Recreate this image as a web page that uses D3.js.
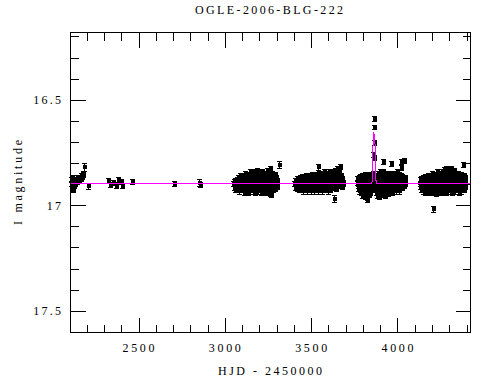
<!DOCTYPE html>
<html><head><meta charset="utf-8">
<script src="https://cdn.jsdelivr.net/npm/d3@7/dist/d3.min.js"></script>
<style>html,body{margin:0;padding:0;background:#fff;} svg{display:block}</style>
</head><body>
<script>
const title = "OGLE-2006-BLG-222";
const xLabel = "HJD - 2450000";
const yLabel = "I magnitude";
const xMajorTicks = [2500, 3000, 3500, 4000];
const xTickLabels = ["2500", "3000", "3500", "4000"];
const yMajorTicks = [16.5, 17, 17.5];
const yTickLabels = ["16.5", "17", "17.5"];
const xDomain = [2106, 4423];
const yDomain = [16.1815, 17.6033];
const defaultErr = 0.012;

// [HJD-2450000, I mag, (optional) error]
const season1 = [
 [2108,16.88],[2110,16.90],[2112,16.92],[2114,16.87],[2116,16.93],[2118,16.91],[2120,16.89],[2122,16.93],
 [2124,16.90],[2126,16.88],[2128,16.91],[2131,16.89],[2134,16.90],[2137,16.88],[2140,16.89],[2143,16.87],
 [2146,16.89],[2150,16.88],[2153,16.87],[2156,16.885],[2160,16.87],[2164,16.875],[2168,16.86],[2172,16.865],
 [2176,16.855],[2180,16.85],[2186,16.82,0.02],[2208,16.91,0.015],
 [2325,16.886],[2336,16.904],[2353,16.895],[2371,16.909],[2382,16.88],[2400,16.89],[2405,16.91],
 [2463,16.89],[2707,16.90,0.01],[2852,16.895,0.018],[2855,16.905,0.012]
];
const season2 = [
 [3050,16.90],[3052,16.92],[3054,16.89],[3056,16.93],[3058,16.905],[3060,16.885],[3062,16.92],[3064,16.90],
 [3066,16.93],[3068,16.88],[3070,16.91],[3072,16.895],[3074,16.925],[3076,16.87],[3078,16.90],[3080,16.915],
 [3082,16.935],[3084,16.88],[3086,16.90],[3088,16.86],[3090,16.92],[3092,16.89],[3095,16.87],[3097,16.93],
 [3099,16.905],[3101,16.86],[3103,16.89],[3105,16.92],[3108,16.875],[3110,16.94],[3112,16.90],[3114,16.865],
 [3116,16.915],[3118,16.85],[3120,16.89],[3123,16.93],[3125,16.87],[3127,16.905],[3129,16.86],[3131,16.92],
 [3134,16.885],[3136,16.94],[3138,16.855],[3140,16.90],[3142,16.875],[3145,16.92],[3147,16.845],[3149,16.895],
 [3152,16.93],[3154,16.865],[3156,16.91],[3158,16.85],[3160,16.88],[3163,16.935],[3165,16.86],[3167,16.90],
 [3169,16.845],[3171,16.92],[3174,16.875],[3176,16.94],[3178,16.855],[3180,16.895],[3183,16.925],[3185,16.84],
 [3187,16.88],[3189,16.91],[3192,16.86],[3194,16.935],[3196,16.87],[3198,16.90],[3201,16.845],[3203,16.925],
 [3205,16.885],[3208,16.855],[3210,16.91],[3212,16.94],[3215,16.87],[3217,16.845],[3219,16.90],[3222,16.925],
 [3224,16.86],[3226,16.89],[3229,16.935],[3231,16.85],[3233,16.88],[3236,16.915],[3238,16.865],[3240,16.94],
 [3243,16.84],[3245,16.895],[3248,16.925],[3250,16.87],[3252,16.85],[3255,16.91],[3257,16.88],[3260,16.945],
 [3262,16.83],[3264,16.90],[3266,16.95],[3268,16.875],[3271,16.92],[3273,16.85],[3276,16.895],[3278,16.93],
 [3281,16.865],[3283,16.91],[3286,16.88],[3289,16.925],[3291,16.855],[3294,16.90],[3297,16.87],[3300,16.915],
 [3303,16.885],[3316,16.81,0.018]
];
const season3 = [
 [3403,16.90],[3405,16.92],[3408,16.885],[3410,16.91],[3413,16.895],[3416,16.925],[3418,16.875],[3421,16.905],
 [3424,16.92],[3426,16.88],[3429,16.90],[3432,16.93],[3434,16.87],[3437,16.91],[3440,16.89],[3443,16.925],
 [3446,16.865],[3448,16.90],[3451,16.935],[3454,16.88],[3456,16.915],[3459,16.87],[3462,16.90],[3465,16.93],
 [3467,16.885],[3470,16.86],[3473,16.915],[3476,16.895],[3478,16.935],[3481,16.87],[3484,16.905],[3487,16.925],
 [3490,16.88],[3492,16.86],[3495,16.91],[3498,16.935],[3501,16.875],[3503,16.90],[3506,16.855],[3509,16.92],
 [3512,16.885],[3515,16.935],[3517,16.865],[3520,16.90],[3523,16.925],[3526,16.87],[3529,16.855],[3531,16.91],
 [3534,16.89],[3537,16.935],[3541,16.82,0.015],[3543,16.87],[3546,16.905],[3548,16.85],[3551,16.925],[3554,16.88],
 [3556,16.86],[3559,16.915],[3562,16.895],[3565,16.935],[3567,16.85],[3570,16.875],[3573,16.91],[3576,16.845],
 [3578,16.93],[3581,16.87],[3584,16.895],[3587,16.85],[3589,16.92],[3592,16.86],[3595,16.905],[3598,16.935],
 [3600,16.875],[3603,16.845],[3606,16.915],[3609,16.885],[3611,16.93],[3614,16.855],[3617,16.90],[3620,16.87],
 [3622,16.92],[3625,16.845],[3628,16.89],[3630,16.97,0.015],[3632,16.86],[3635,16.915],[3638,16.875],[3641,16.84],
 [3643,16.905],[3646,16.925],[3649,16.855],[3652,16.83],[3654,16.89],[3657,16.87],[3660,16.91],[3662,16.845],
 [3665,16.82],[3668,16.88],[3670,16.90],[3673,16.86],[3676,16.915],[3679,16.875],[3682,16.895],[3685,16.90]
];
const season4 = [
 [3765,16.895],[3767,16.875],[3769,16.91],[3771,16.89],[3773,16.925],[3775,16.87],[3777,16.905],[3779,16.935],
 [3781,16.885],[3783,16.865],[3785,16.915],[3787,16.895],[3789,16.94],[3791,16.875],[3793,16.90],[3795,16.955],
 [3797,16.86],[3799,16.92],[3801,16.89],[3803,16.945],[3805,16.87],[3807,16.905],[3809,16.96],[3811,16.855],
 [3813,16.925],[3815,16.885],[3817,16.95],[3819,16.87],[3821,16.965],[3823,16.90],[3825,16.975],[3827,16.86],
 [3829,16.935],[3831,16.88],[3833,16.95],[3835,16.87],[3837,16.915],[3839,16.855],[3841,16.94],[3843,16.89],
 [3845,16.865],[3847,16.925],[3849,16.88],[3851,16.905],[3853,16.87],[3855,16.93],[3857,16.885],[3859,16.85],
 [3861,16.76],[3861.8,16.705],[3862.5,16.59,0.012],[3863.2,16.63,0.01],[3864,16.775],
 [3866,16.86],[3868,16.90],[3870,16.875],[3872,16.925],[3874,16.89],[3876,16.94],[3878,16.86],[3880,16.91],
 [3882,16.955],[3884,16.875],[3886,16.93],[3888,16.85],[3890,16.90],[3892,16.96],[3894,16.88],[3896,16.915],
 [3898,16.845],[3900,16.94],[3902,16.87],[3904,16.905],[3906,16.925],[3908,16.86],[3910,16.89],[3912,16.95],
 [3914,16.875],[3916,16.91],[3918,16.845],[3919,16.795,0.012],[3921,16.93],[3923,16.88],[3925,16.90],[3927,16.86],
 [3929,16.955],[3931,16.915],[3933,16.875],[3935,16.94],[3937,16.85],[3939,16.895],[3941,16.925],[3943,16.87],
 [3945,16.905],[3947,16.945],[3949,16.86],[3951,16.89],[3953,16.92],[3955,16.875],[3957,16.935],[3959,16.85],
 [3960,16.805,0.012],[3962,16.90],[3964,16.925],[3966,16.87],[3968,16.885],[3970,16.94],[3972,16.855],[3974,16.91],
 [3976,16.895],[3978,16.93],[3980,16.865],[3982,16.90],[3984,16.85],[3986,16.92],[3988,16.88],[3990,16.935],
 [3992,16.86],[3994,16.905],[3996,16.875],[3998,16.925],[4000,16.845],[4002,16.89],[4004,16.915],[4006,16.87],
 [4008,16.935],[4010,16.855],[4012,16.90],[4014,16.88],[4016,16.92],[4018,16.795],[4019,16.825],[4021,16.86],
 [4023,16.905],[4025,16.885],[4027,16.92],[4029,16.865],[4031,16.90],[4033,16.875],[4035,16.79],[4037,16.91],
 [4039,16.88],[4041,16.895],[4043,16.87],[4045,16.90]
];
const season5 = [
 [4128,16.90],[4130,16.88],[4132,16.915],[4134,16.895],[4136,16.93],[4138,16.875],[4140,16.905],[4142,16.92],
 [4144,16.885],[4146,16.935],[4148,16.87],[4150,16.90],[4152,16.925],[4154,16.88],[4156,16.91],[4158,16.94],
 [4160,16.865],[4162,16.895],[4164,16.92],[4166,16.875],[4168,16.905],[4170,16.935],[4172,16.88],[4174,16.86],
 [4176,16.915],[4178,16.895],[4180,16.94],[4182,16.87],[4184,16.905],[4186,16.925],[4188,16.885],[4190,16.86],
 [4192,16.91],[4194,16.935],[4196,16.875],[4198,16.895],[4200,16.92],[4202,16.85],[4204,16.90],[4206,16.94],
 [4208,17.02,0.014],[4210,16.87],[4212,16.915],[4214,16.89],[4216,16.855],[4218,16.93],[4220,16.88],[4222,16.905],
 [4224,16.945],[4226,16.865],[4228,16.90],[4230,16.845],[4232,16.925],[4234,16.885],[4236,16.91],[4238,16.87],
 [4240,16.935],[4242,16.85],[4244,16.895],[4246,16.92],[4248,16.875],[4250,16.905],[4252,16.94],[4254,16.86],
 [4256,16.89],[4258,16.925],[4260,16.845],[4262,16.88],[4264,16.91],[4266,16.87],[4268,16.935],[4270,16.835],
 [4272,16.90],[4274,16.925],[4276,16.86],[4278,16.895],[4280,16.94],[4282,16.83],[4284,16.875],[4286,16.91],
 [4288,16.85],[4290,16.93],[4292,16.885],[4294,16.905],[4296,16.835],[4298,16.87],[4300,16.92],[4302,16.895],
 [4304,16.845],[4306,16.935],[4308,16.88],[4310,16.90],[4312,16.83],[4314,16.915],[4316,16.865],[4318,16.94],
 [4320,16.89],[4322,16.85],[4324,16.905],[4326,16.925],[4328,16.87],[4330,16.84],[4332,16.90],[4334,16.935],
 [4336,16.88],[4338,16.855],[4340,16.915],[4342,16.895],[4344,16.87],[4346,16.93],[4348,16.85],[4350,16.905],
 [4352,16.885],[4354,16.94],[4356,16.86],[4358,16.91],[4360,16.875],[4362,16.925],[4364,16.89],[4366,16.855],
 [4368,16.935],[4370,16.88],[4372,16.90],[4374,16.865],[4376,16.92],[4378,16.81],[4380,16.895],[4382,16.875],
 [4384,16.93],[4386,16.86],[4388,16.905],[4390,16.885],[4392,16.915],[4394,16.87]
];
const modelHJD = [2106, 3850, 3854, 3856, 3856.5, 3863.5, 3873, 3873.5, 3876, 3880, 4423];
const modelMag = [16.895, 16.895, 16.885, 16.87, 16.74, 16.655, 16.74, 16.87, 16.885, 16.895, 16.895];

const W = 490, H = 380;
const frame = {l: 70.5, r: 470.5, t: 32.5, b: 332.5};
const FONT = "'Liberation Serif', 'DejaVu Serif', serif";

const svg = d3.select("body").append("svg").attr("width", W).attr("height", H);
svg.append("rect").attr("width", W).attr("height", H).attr("fill", "#fff");

const x = d3.scaleLinear().domain(xDomain).range([frame.l, frame.r]);
const y = d3.scaleLinear().domain(yDomain).range([frame.t, frame.b]);

// data points with error bars
const allPts = [].concat(season1, season2, season3, season4, season5);
const pts = svg.append("g").attr("shape-rendering", "crispEdges");
allPts.forEach(p => {
  const px = Math.round(x(p[0])) + 0.5;
  const e = p.length > 2 ? p[2] : defaultErr;
  const y1 = y(p[1] - e), y2 = y(p[1] + e);
  const g = pts.append("g").attr("stroke", "#000").attr("stroke-width", 1);
  g.append("line").attr("x1", px).attr("x2", px).attr("y1", y1).attr("y2", y2);
  g.append("line").attr("x1", px - 2.5).attr("x2", px + 2.5).attr("y1", y1).attr("y2", y1);
  g.append("line").attr("x1", px - 2.5).attr("x2", px + 2.5).attr("y1", y2).attr("y2", y2);
  pts.append("rect").attr("x", px - 2).attr("y", y(p[1]) - 2).attr("width", 4).attr("height", 4).attr("fill", "#000");
});

// model
const line = d3.line().x(d => x(d[0])).y(d => y(d[1]));
svg.append("path").datum(modelHJD.map((t, i) => [t, modelMag[i]]))
  .attr("d", line).attr("fill", "none").attr("stroke", "#ff00ff").attr("stroke-width", 1)
  .attr("shape-rendering", "crispEdges");

// axes (ticks inward)
const xMinor = d3.range(2200, 4423, 100).filter(v => !xMajorTicks.includes(v));
const yMinor = d3.range(16.2, 17.61, 0.1).map(v => +v.toFixed(1)).filter(v => !yMajorTicks.includes(v));
function addAxis(gen, tx, ty) {
  const g = svg.append("g").attr("transform", `translate(${tx},${ty})`).call(gen);
  g.selectAll("text").remove();
  g.select(".domain").remove();
  g.selectAll("line").attr("stroke", "#000").attr("shape-rendering", "crispEdges");
}
const fmt = () => "";
addAxis(d3.axisBottom(x).tickValues(xMajorTicks).tickSize(-15).tickFormat(fmt), 0, frame.b);
addAxis(d3.axisBottom(x).tickValues(xMinor).tickSize(-8).tickFormat(fmt), 0, frame.b);
addAxis(d3.axisTop(x).tickValues(xMajorTicks).tickSize(-15).tickFormat(fmt), 0, frame.t);
addAxis(d3.axisTop(x).tickValues(xMinor).tickSize(-8).tickFormat(fmt), 0, frame.t);
addAxis(d3.axisLeft(y).tickValues(yMajorTicks).tickSize(-15).tickFormat(fmt), frame.l, 0);
addAxis(d3.axisLeft(y).tickValues(yMinor).tickSize(-8).tickFormat(fmt), frame.l, 0);
addAxis(d3.axisRight(y).tickValues(yMajorTicks).tickSize(-15).tickFormat(fmt), frame.r, 0);
addAxis(d3.axisRight(y).tickValues(yMinor).tickSize(-8).tickFormat(fmt), frame.r, 0);

svg.append("rect").attr("x", frame.l).attr("y", frame.t)
  .attr("width", frame.r - frame.l).attr("height", frame.b - frame.t)
  .attr("fill", "none").attr("stroke", "#000").attr("stroke-width", 1).attr("shape-rendering", "crispEdges");

// text
function txt(s, tx, ty, len, anchor, rot) {
  const t = svg.append("text").text(s).attr("x", tx).attr("y", ty)
    .attr("font-family", FONT).attr("font-size", 12).attr("fill", "#000")
    .attr("text-anchor", anchor || "middle")
    .attr("textLength", len).attr("lengthAdjust", "spacing");
  if (rot) t.attr("transform", `rotate(${rot},${tx},${ty})`);
  return t;
}
txt(title, 269, 14, 148);
xMajorTicks.forEach((v, i) => txt(xTickLabels[i], x(v), 352, 32));
yMajorTicks.forEach((v, i) => {
  const w = yTickLabels[i].length === 2 ? 14.3 : 27.7;
  txt(yTickLabels[i], 61 - w, y(v) + 4.3, w, "start");
});
txt(xLabel, 270, 375, 104);
txt(yLabel, 21.5, 182.5, 85, "middle", -90);
</script>
</body></html>
